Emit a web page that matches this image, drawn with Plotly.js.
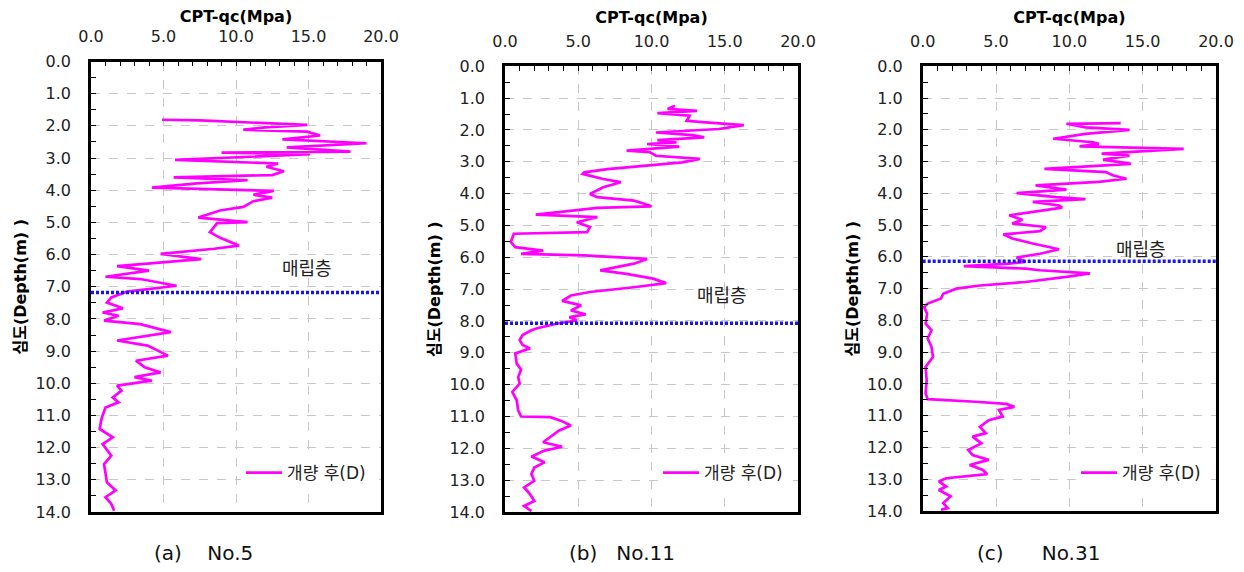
<!DOCTYPE html>
<html>
<head>
<meta charset="utf-8">
<script src="https://cdn.plot.ly/plotly-3.0.1.min.js"></script>
<style>
  html, body { margin: 0; padding: 0; background: #ffffff; }
  #chart { width: 1244px; height: 572px; }
</style>
</head>
<body>
<div id="chart"></div>
<script>
// ---------------- DATA ----------------
const panelCaptions = ["(a)\u00a0\u00a0\u00a0\u00a0No.5", "(b)\u00a0\u00a0\u00a0No.11", "(c)\u00a0\u00a0\u00a0\u00a0\u00a0\u00a0No.31"];
const seriesName = "개량 후(D)";
const layerLabel = "매립층";
const xTitle = "CPT-qc(Mpa)";
const yTitle = "심도(Depth(m) )";

// No.5
const depth5 = [1.81,1.83,1.97,2.05,2.12,2.18,2.30,2.42,2.54,2.67,2.80,2.83,2.88,3.06,3.17,3.27,3.41,3.53,3.60,3.69,3.79,3.92,4.02,4.14,4.23,4.34,4.52,4.63,4.85,4.99,5.02,5.30,5.48,5.72,5.82,5.98,6.14,6.36,6.50,6.69,6.76,6.97,7.15,7.33,7.49,7.67,7.80,7.90,8.05,8.16,8.41,8.67,8.83,9.04,9.14,9.30,9.50,9.66,9.81,9.92,10.07,10.23,10.44,10.59,10.75,11.00,11.16,11.42,11.68,11.89,12.25,12.51,12.82,13.08,13.33,13.54,13.75,13.96];
const qc5    = [4.9,7.5,14.9,12.0,10.5,14.9,15.8,13.2,19.0,13.5,17.9,9.0,15.1,5.8,12.9,12.1,13.3,12.5,5.7,10.8,7.3,4.2,12.6,11.2,12.5,11.2,10.5,8.9,7.4,10.8,8.7,8.2,8.9,10.2,8.5,4.8,7.6,1.8,4.0,1.0,3.4,5.9,2.5,1.4,1.1,2.2,0.8,1.9,0.9,3.4,5.5,1.8,3.9,4.8,5.3,3.1,3.7,4.8,3.0,4.2,1.8,2.1,1.5,1.9,1.0,0.8,0.7,0.6,1.5,0.8,1.4,0.9,1.0,1.1,1.7,1.0,1.4,1.6];

// No.11
const depth11 = [1.24,1.34,1.40,1.47,1.55,1.71,1.76,1.85,1.97,2.08,2.16,2.23,2.32,2.39,2.44,2.52,2.65,2.70,2.81,2.91,3.02,3.12,3.23,3.33,3.38,3.54,3.64,3.80,4.01,4.11,4.22,4.30,4.40,4.45,4.66,4.74,4.90,5.05,5.21,5.26,5.52,5.68,5.79,5.89,5.94,6.05,6.20,6.41,6.52,6.67,6.81,6.94,7.09,7.20,7.37,7.51,7.67,7.79,7.88,7.98,8.08,8.23,8.29,8.44,8.60,8.75,8.86,9.02,9.34,9.53,9.76,9.97,10.23,10.49,10.81,11.00,11.02,11.13,11.28,11.44,11.65,11.81,11.95,12.07,12.26,12.44,12.60,12.81,13.02,13.23,13.44,13.65,13.81,13.97];
const qc11    = [11.6,11.1,13.1,10.4,12.6,12.4,13.7,16.3,14.6,10.3,12.8,13.6,10.4,11.7,9.7,11.9,8.3,9.9,10.3,13.3,12.1,9.9,7.0,5.4,5.3,6.7,7.9,6.7,5.8,6.3,8.8,9.4,10.0,6.3,2.1,6.3,4.9,5.8,5.6,0.6,0.4,0.7,2.6,1.1,5.4,9.7,8.8,6.5,8.3,10.1,11.0,8.8,5.8,4.5,3.9,5.2,4.5,5.5,4.4,4.9,3.6,2.2,1.8,1.2,1.0,1.2,1.7,0.7,0.8,1.1,0.9,1.0,0.5,0.8,0.9,1.1,3.1,3.8,4.5,3.7,3.1,2.6,3.9,2.7,1.8,2.7,2.0,1.8,2.0,1.3,1.7,2.0,1.3,1.8];

// No.31
const depth31 = [1.79,1.81,1.92,2.00,2.13,2.28,2.39,2.44,2.52,2.60,2.75,2.81,2.94,3.07,3.23,3.33,3.43,3.54,3.64,3.75,3.88,3.99,4.12,4.18,4.27,4.38,4.45,4.59,4.69,4.83,4.95,5.06,5.19,5.29,5.42,5.58,5.76,5.90,6.02,6.16,6.21,6.29,6.37,6.42,6.52,6.63,6.79,6.90,7.00,7.16,7.31,7.47,7.58,7.79,8.10,8.31,8.57,8.83,9.15,9.46,9.88,10.30,10.48,10.56,10.63,10.72,10.82,11.03,11.14,11.35,11.55,11.66,11.87,12.08,12.24,12.39,12.55,12.71,12.84,12.97,13.07,13.23,13.34,13.54,13.75,13.91,13.96];
const qc31    = [13.5,9.8,11.1,14.1,11.1,8.9,11.6,12.0,10.7,17.8,12.2,14.1,12.3,14.2,8.3,12.5,12.95,13.9,12.0,7.7,9.8,6.4,9.1,11.1,7.5,9.3,9.5,7.3,5.9,6.8,6.1,8.4,8.0,5.5,6.1,7.5,9.3,8.0,6.4,7.0,5.9,2.8,7.0,8.0,11.4,9.8,7.0,3.9,2.3,1.4,1.25,0.34,0.1,0.3,0.2,0.6,0.34,0.6,0.7,0.2,0.27,0.2,0.34,3.6,5.7,6.25,5.2,5.45,4.5,3.9,4.3,3.4,4.0,3.1,3.4,4.5,3.2,4.1,4.4,1.6,1.1,1.6,1.1,1.9,1.4,1.7,1.25];

// fill-layer bottom depth (blue dotted line) per panel
const fillDepth = [7.18, 8.07, 6.14];
const qcRange = [0, 20];
const depthRange = [14, 0];

// ---------------- PLOT ----------------
const W = 1244, H = 572;
const FONT = "'DejaVu Sans', 'Noto Sans CJK KR', sans-serif";
// panel frames in pixels: [left, right, top, bottom]
const frames = [[91, 381, 61.5, 512], [505, 798, 66.3, 512], [922.7, 1216, 66.3, 511]];
const titleStandoff = [1, 5, 5];
const legendLeft = [241, 658, 1076];
const layerPos = [[307, 269], [722, 295], [1141, 249]];
const captionX = [203, 622, 1038];

const depths = [depth5, depth11, depth31];
const qcs = [qc5, qc11, qc31];

const traces = [];
const layout = {
  width: W, height: H,
  margin: {l: 0, r: 0, t: 0, b: 0},
  paper_bgcolor: '#ffffff', plot_bgcolor: '#ffffff',
  font: {family: FONT, size: 16, color: '#111111'},
  annotations: [],
  showlegend: true
};

for (let i = 0; i < 3; i++) {
  const sfx = i === 0 ? '' : String(i + 1);
  const [l, r, t, b] = frames[i];
  const xa = 'x' + sfx, ya = 'y' + sfx;
  const legName = 'legend' + sfx;

  traces.push({
    x: qcs[i], y: depths[i], xaxis: xa, yaxis: ya,
    type: 'scatter', mode: 'lines', name: seriesName,
    line: {color: '#ff00ff', width: 2.7},
    legend: legName, showlegend: true, hoverinfo: 'x+y'
  });
  traces.push({
    x: qcRange, y: [fillDepth[i], fillDepth[i]], xaxis: xa, yaxis: ya,
    type: 'scatter', mode: 'lines', name: layerLabel,
    line: {color: '#1515f0', width: 3.5, dash: '3px,2px'},
    showlegend: false, hoverinfo: 'y'
  });

  layout['xaxis' + sfx] = {
    domain: [l / W, r / W], anchor: ya, side: 'top',
    range: qcRange, tickvals: [0, 5, 10, 15, 20], tickformat: '.1f',
    ticks: 'inside', ticklen: 5, tickwidth: 1.2, tickcolor: '#000',
    minor: {dtick: 1, ticks: 'inside', ticklen: 5, tickwidth: 1.2, tickcolor: '#000', showgrid: false},
    showline: true, mirror: true, linecolor: '#000', linewidth: 2.6,
    showgrid: true, gridcolor: '#c8c8c8', gridwidth: 1, griddash: 'dash',
    zeroline: false, ticklabelstandoff: 10,
    tickfont: {family: FONT, size: 16, color: '#222'},
    title: {text: xTitle, font: {family: FONT, size: 16, color: '#000', weight: 'bold'}, standoff: titleStandoff[i]}
  };
  layout['yaxis' + sfx] = {
    domain: [1 - b / H, 1 - t / H], anchor: xa,
    range: depthRange, dtick: 1, tick0: 0, tickformat: '.1f',
    ticks: 'inside', ticklen: 5, tickwidth: 1.2, tickcolor: '#000',
    minor: {dtick: 0.5, ticks: 'inside', ticklen: 5, tickwidth: 1.2, tickcolor: '#000', showgrid: false},
    showline: true, mirror: true, linecolor: '#000', linewidth: 2.6,
    showgrid: true, gridcolor: '#c8c8c8', gridwidth: 1, griddash: 'dash',
    zeroline: false, ticklabelstandoff: 14,
    tickfont: {family: FONT, size: 16, color: '#222'},
    title: {text: yTitle, font: {family: FONT, size: 16, color: '#000', weight: 'bold'}, standoff: 5}
  };
  layout[legName] = {
    x: legendLeft[i] / W, y: 1 - 455 / H, xanchor: 'left', yanchor: 'top',
    bgcolor: '#ffffff', borderwidth: 0, itemwidth: 36,
    font: {family: FONT, size: 17, color: '#222'}
  };
  layout.annotations.push({
    xref: 'paper', yref: 'paper', x: layerPos[i][0] / W, y: 1 - layerPos[i][1] / H,
    text: layerLabel, showarrow: false, xanchor: 'center', yanchor: 'middle',
    font: {family: FONT, size: 18, color: '#222'}
  });
  layout.annotations.push({
    xref: 'paper', yref: 'paper', x: captionX[i] / W, y: 1 - 553 / H,
    text: panelCaptions[i], showarrow: false, xanchor: 'center', yanchor: 'middle',
    font: {family: FONT, size: 20, color: '#111'}
  });
}

Plotly.newPlot('chart', traces, layout, {displayModeBar: false, responsive: false});
</script>
</body>
</html>
